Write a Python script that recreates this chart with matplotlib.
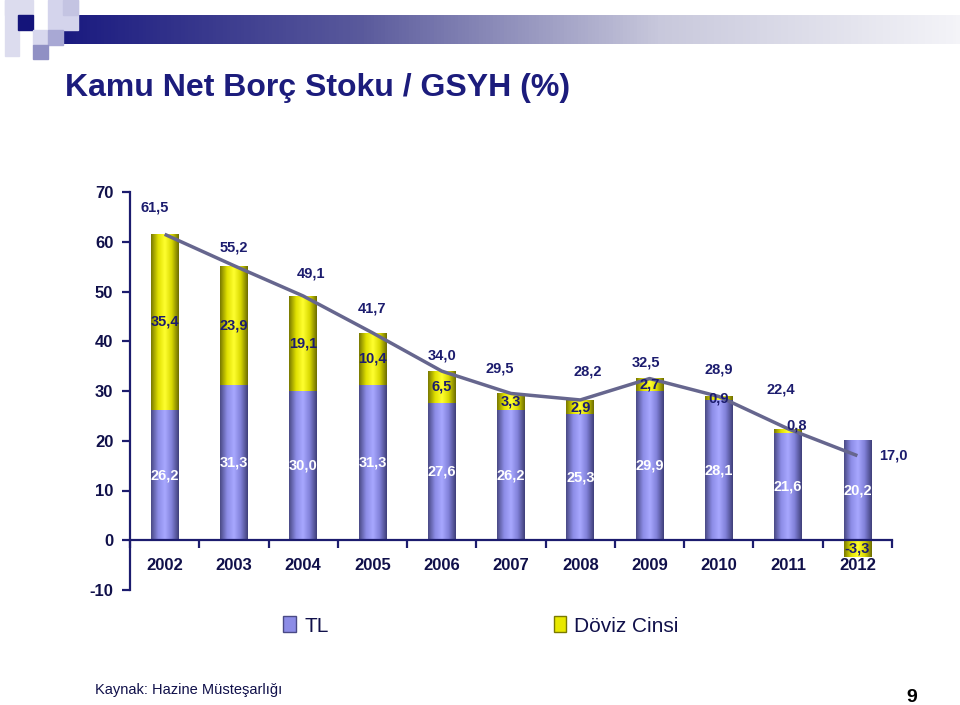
import numpy as np
import matplotlib
matplotlib.use("Agg")
import matplotlib.pyplot as plt
from matplotlib.colors import LinearSegmentedColormap
from matplotlib.patches import Rectangle, Patch

plt.rcParams['font.family'] = ['Liberation Sans', 'DejaVu Sans']
plt.rcParams['axes.unicode_minus'] = False

years = ['2002', '2003', '2004', '2005', '2006', '2007', '2008', '2009', '2010', '2011', '2012']
tl = [26.2, 31.3, 30.0, 31.3, 27.6, 26.2, 25.3, 29.9, 28.1, 21.6, 20.2]
doviz = [35.4, 23.9, 19.1, 10.4, 6.5, 3.3, 2.9, 2.7, 0.9, 0.8, -3.3]
toplam = [61.5, 55.2, 49.1, 41.7, 34.0, 29.5, 28.2, 32.5, 28.9, 22.4, 17.0]

# label nudges for the total labels (px right, data units up)
tot_dx = [-10, 0, 8, 0, 0, -11, 7, -4, 0, -7, 36]
tot_dy = [5.3, 3.6, 4.6, 4.8, 3.2, 5.1, 5.8, 3.3, 5.5, 8.0, 0.0]

navy = '#1c1c6e'
fig = plt.figure(figsize=(9.6, 7.05), dpi=100)

# header decoration
def box(x, y, w, h, c):
    fig.patches.append(Rectangle((x / 960, 1 - (y + h) / 705), w / 960, h / 705,
                                 transform=fig.transFigure, color=c, zorder=1))

bar_ax = fig.add_axes([62 / 960, 1 - 44 / 705, 898 / 960, 29 / 705])
bar_ax.imshow(np.linspace(0, 1, 256)[None, :], aspect='auto',
              cmap=LinearSegmentedColormap.from_list('hd', ['#1a1a80', '#5a5a9c', '#c8c8dc', '#f4f4f8']))
bar_ax.axis('off')
box(5, 0, 14, 56, '#dcdcee')
box(5, 0, 28, 15, '#dcdcee')
box(18, 15, 15, 15, '#14147a')
box(48, 0, 30, 30, '#d4d4ec')
box(63, 0, 15, 15, '#c4c4e2')
box(33, 30, 15, 15, '#d8d8ee')
box(48, 30, 15, 15, '#a8a8d4')
box(33, 45, 15, 14, '#9090c4')

fig.text(65 / 960, 1 - 88 / 705, 'Kamu Net Borç Stoku / GSYH (%)', fontsize=23,
         weight='bold', color='#1c1c7c', va='center', ha='left')

ax = fig.add_axes([130 / 960, 1 - 590 / 705, 762 / 960, 398 / 705])
x = np.arange(len(years))
w = 0.4
tl_bars = ax.bar(x, tl, w, color='none', zorder=2)
bottoms = [t if d > 0 else 0 for t, d in zip(tl, doviz)]
fx_bars = ax.bar(x, doviz, w, bottom=bottoms, color='none', zorder=2)

cm_tl = LinearSegmentedColormap.from_list('tl', ['#4a4a86', '#8c8ce6', '#a8a8ff', '#8080d8', '#40407a'])
cm_fx = LinearSegmentedColormap.from_list('fx', ['#7a7a00', '#e0e000', '#ffff30', '#d8d800', '#6e6e00'])
grad = np.linspace(0, 1, 64)[None, :]
for bars, cm in ((tl_bars, cm_tl), (fx_bars, cm_fx)):
    for b in bars:
        bx, by, bw, bh = b.get_x(), b.get_y(), b.get_width(), b.get_height()
        im = ax.imshow(grad, extent=[bx, bx + bw, by, by + bh], aspect='auto',
                       cmap=cm, zorder=2, interpolation='bilinear')
        im.set_clip_path(b)

ax.plot(x, toplam, color='#66668e', lw=2.5, zorder=4, solid_capstyle='butt')

fs = 10.5
for i in range(len(years)):
    ax.text(x[i], tl[i] / 2, f'{tl[i]:.1f}'.replace('.', ','), color='white',
            fontsize=fs, weight='bold', ha='center', va='center', zorder=5)
    fy = bottoms[i] + doviz[i] / 2
    fxo = 0.12 if i == 9 else 0
    fyo = 1.1 if i == 9 else 0
    ax.text(x[i] + fxo, fy + fyo, f'{doviz[i]:.1f}'.replace('.', ','), color=navy,
            fontsize=fs, weight='bold', ha='center', va='center', zorder=5)
    ax.text(x[i] + tot_dx[i] / 69.3, toplam[i] + tot_dy[i], f'{toplam[i]:.1f}'.replace('.', ','),
            color=navy, fontsize=fs, weight='bold', ha='center', va='center', zorder=5)

ax.set_xlim(-0.5, len(years) - 0.5)
ax.set_ylim(-10, 70)
ax.set_yticks(range(-10, 71, 10))
ax.set_xticks(x)
ax.set_xticklabels(years)
ax.set_xticks(np.arange(-0.5, len(years), 1), minor=True)
for s in ('top', 'right'):
    ax.spines[s].set_visible(False)
ax.spines['bottom'].set_position(('data', 0))
for s in ('left', 'bottom'):
    ax.spines[s].set_color(navy)
    ax.spines[s].set_linewidth(1.6)
ax.tick_params(axis='x', which='major', length=0, pad=13, labelsize=12, labelcolor='#10104a')
ax.tick_params(axis='x', which='minor', length=6, width=1.6, color=navy, direction='out')
ax.tick_params(axis='y', length=6, width=1.6, color=navy, labelsize=12, labelcolor='#10104a', pad=6)
for lab in ax.get_xticklabels() + ax.get_yticklabels():
    lab.set_fontweight('bold')

handles = [Patch(facecolor='#8c8ce6', edgecolor='#4a4a86', label='TL'),
           Patch(facecolor='#e8e800', edgecolor='#7a7a00', label='Döviz Cinsi')]
fig.legend(handles=handles, loc='center', bbox_to_anchor=(481 / 960, 1 - 626 / 705), ncol=2,
           frameon=False, fontsize=15, handlelength=0.6, handleheight=0.8,
           handletextpad=0.4, columnspacing=10.8, labelcolor='#10104a')

fig.text(95 / 960, 1 - 690 / 705, 'Kaynak: Hazine Müsteşarlığı', fontsize=10.5,
         color='#10104a', va='center', ha='left')
fig.text(912 / 960, 1 - 698 / 705, '9', fontsize=14, weight='bold', color='black',
         va='center', ha='center')

fig.savefig('out.png', dpi=100)
